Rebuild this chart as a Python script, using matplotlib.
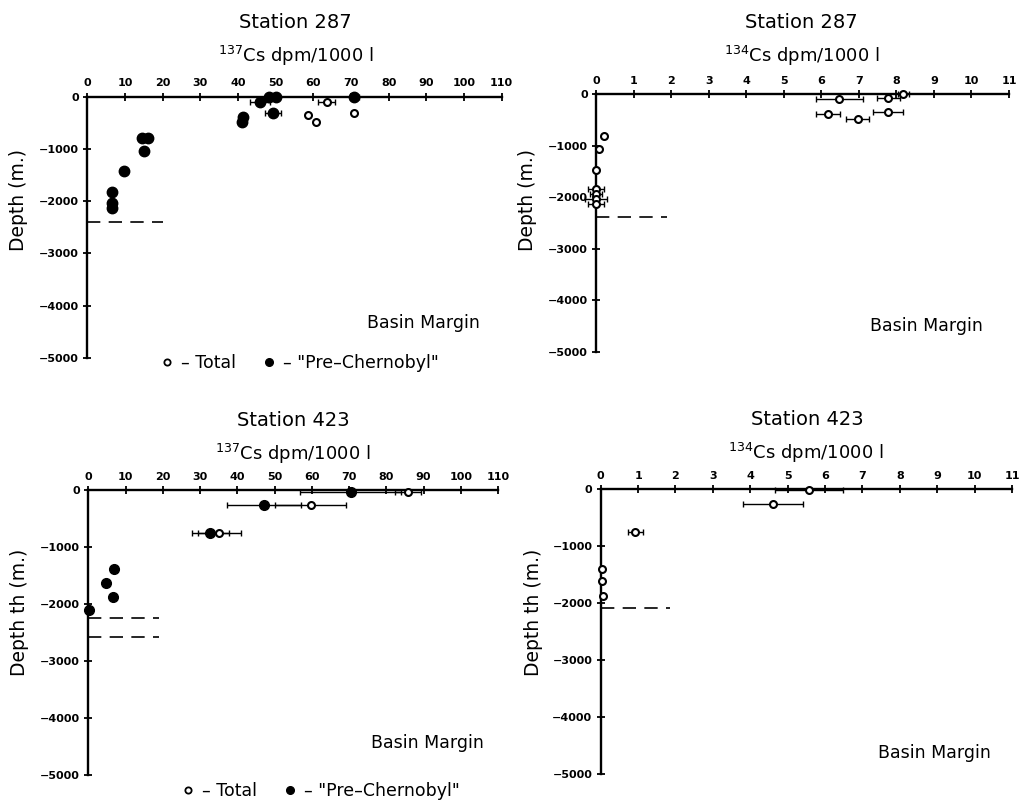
import matplotlib
matplotlib.use("Agg")
from matplotlib import pyplot as plt
from matplotlib.lines import Line2D

plt.rcParams["font.family"] = ["DejaVu Sans"]
plt.rcParams["mathtext.fontset"] = "dejavusans"

# Station 287, 137Cs
st287_cs137_pre_x = [48.3, 50.0, 45.8, 70.8, 49.3, 41.4, 41.0, 14.6, 16.0, 15.1, 9.7, 6.6, 6.6, 6.6]
st287_cs137_pre_depth = [0, -10, -100, -10, -320, -380, -480, -790, -790, -1040, -1430, -1830, -2040, -2130]
st287_cs137_pre_err = [0, 1.0, 2.6, 1.2, 2.2, 0, 0, 0, 0, 0, 0, 0, 0, 0]
st287_cs137_tot_x = [63.5, 70.7, 58.6, 60.7]
st287_cs137_tot_depth = [-100, -320, -350, -480]
st287_cs137_tot_err = [2.2, 0, 0, 0]
st287_cs137_bottom = -2400

# Station 287, 134Cs
st287_cs134_x = [6.48, 7.79, 8.19, 6.17, 6.97, 7.79, 0.22, 0.09, 0.0, 0.0, 0.0, 0.0, 0.0]
st287_cs134_depth = [-100, -65, 0, -380, -470, -340, -810, -1060, -1470, -1830, -1930, -2040, -2130]
st287_cs134_err = [0.62, 0.3, 0.15, 0.32, 0.31, 0.4, 0, 0, 0, 0.2, 0.15, 0.3, 0.2]
st287_cs134_bottom = -2390

# Station 423, 137Cs
st423_cs137_pre_x = [70.4, 47.2, 32.8, 6.8, 4.7, 6.5, 0.3]
st423_cs137_pre_depth = [-30, -265, -755, -1390, -1630, -1880, -2100]
st423_cs137_pre_err = [13.6, 10.0, 5.0, 0, 0, 0, 0]
st423_cs137_tot_x = [85.8, 59.7, 35.2]
st423_cs137_tot_depth = [-30, -265, -755]
st423_cs137_tot_err = [3.5, 9.6, 5.8]
st423_cs137_bottom = [-2250, -2580]

# Station 423, 134Cs
st423_cs134_x = [5.58, 4.60, 0.92, 0.03, 0.03, 0.05]
st423_cs134_depth = [-20, -270, -760, -1400, -1620, -1880]
st423_cs134_err = [0.91, 0.8, 0.2, 0, 0, 0]
st423_cs134_bottom = -2090

cs137_ticks = list(range(0, 111, 10))
cs134_ticks = list(range(0, 12))
depth_ticks = [0, -1000, -2000, -3000, -4000, -5000]

W, H = 1022, 800


def px_axes(fig, left, top, right, bottom):
    return fig.add_axes([left / W, 1 - bottom / H, (right - left) / W, (bottom - top) / H])


def style_axes(ax, xmax, xticks):
    ax.set_xlim(0, xmax)
    ax.set_ylim(-5000, 0)
    for side in ["bottom", "right"]:
        ax.spines[side].set_visible(False)
    for side in ["top", "left"]:
        ax.spines[side].set_linewidth(1.7)
    ax.xaxis.tick_top()
    ax.set_xticks(xticks)
    ax.set_yticks(depth_ticks)
    ax.set_yticklabels(["0", "\u22121000", "\u22122000", "\u22123000", "\u22124000", "\u22125000"])
    ax.tick_params(direction="inout", length=6, width=1.3, labelsize=8, pad=3)
    for lab in ax.get_xticklabels() + ax.get_yticklabels():
        lab.set_fontweight("bold")
    ax.patch.set_visible(False)


def plot_points(ax, x, depth, err, filled, ms):
    ax.errorbar(x, depth, xerr=err, fmt="none", ecolor="black", elinewidth=1.0,
                capsize=2, capthick=1.0, clip_on=False, zorder=3)
    if filled:
        ax.plot(x, depth, "o", color="black", ms=ms, clip_on=False, zorder=4, linestyle="none")
    else:
        ax.plot(x, depth, "o", mfc="white", mec="black", mew=1.5, ms=ms,
                clip_on=False, zorder=5, linestyle="none")


def bottom_line(ax, depth, xend):
    ax.plot([0, xend], [depth, depth], color="black", lw=1.2, dashes=(8, 5))


def legend(ax, cx, cy):
    handles = [
        Line2D([], [], marker="o", linestyle="none", mfc="white", mec="black", mew=1.3, ms=4.5),
        Line2D([], [], marker="o", linestyle="none", color="black", ms=5.5),
    ]
    ax.legend(handles, ["\u2013 Total", "\u2013 \"Pre\u2013Chernobyl\""], ncol=2, frameon=False,
              fontsize=12.5, handlelength=0.6, handletextpad=0.5, columnspacing=1.6,
              loc="center", bbox_to_anchor=(cx / W, 1 - cy / H),
              bbox_transform=fig.transFigure)


def fig_text(x, y, s, size, **kw):
    fig.text(x / W, 1 - y / H, s, fontsize=size, ha="center", va="center", **kw)


fig = plt.figure(figsize=(W / 100, H / 100), dpi=100)
fig.patch.set_facecolor("white")

# top left: Station 287, 137Cs
ax1 = px_axes(fig, 87.3, 96.7, 501.7, 358)
style_axes(ax1, 110, cs137_ticks)
plot_points(ax1, st287_cs137_tot_x, st287_cs137_tot_depth, st287_cs137_tot_err, False, 5)
plot_points(ax1, st287_cs137_pre_x, st287_cs137_pre_depth, st287_cs137_pre_err, True, 7.5)
bottom_line(ax1, st287_cs137_bottom, 20)
legend(ax1, 300, 363)

# top right: Station 287, 134Cs
ax2 = px_axes(fig, 596, 94.3, 1009, 352)
style_axes(ax2, 11, cs134_ticks)
plot_points(ax2, st287_cs134_x, st287_cs134_depth, st287_cs134_err, False, 5)
bottom_line(ax2, st287_cs134_bottom, 1.9)

# bottom left: Station 423, 137Cs
ax3 = px_axes(fig, 88.3, 490, 498, 775)
style_axes(ax3, 110, cs137_ticks)
plot_points(ax3, st423_cs137_tot_x, st423_cs137_tot_depth, st423_cs137_tot_err, False, 5)
plot_points(ax3, st423_cs137_pre_x, st423_cs137_pre_depth, st423_cs137_pre_err, True, 7)
for d in st423_cs137_bottom:
    bottom_line(ax3, d, 19)
legend(ax3, 321, 791)

# bottom right: Station 423, 134Cs
ax4 = px_axes(fig, 600.7, 489, 1012, 774)
style_axes(ax4, 11, cs134_ticks)
plot_points(ax4, st423_cs134_x, st423_cs134_depth, st423_cs134_err, False, 5)
bottom_line(ax4, st423_cs134_bottom, 1.85)

fig_text(295, 23, "Station 287", 14)
fig_text(296, 56, r"$^{137}$Cs dpm/1000 l", 13)
fig_text(801, 23, "Station 287", 14)
fig_text(802, 56, r"$^{134}$Cs dpm/1000 l", 13)
fig_text(293, 420, "Station 423", 14)
fig_text(293, 454, r"$^{137}$Cs dpm/1000 l", 13)
fig_text(807, 419, "Station 423", 14)
fig_text(806, 453, r"$^{134}$Cs dpm/1000 l", 13)

fig_text(19, 200, "Depth (m.)", 13.5, rotation=90)
fig_text(527, 200, "Depth (m.)", 13.5, rotation=90)
fig_text(20, 612, "Depth th (m.)", 13.5, rotation=90)
fig_text(533, 612, "Depth th (m.)", 13.5, rotation=90)

fig_text(423, 323, "Basin Margin", 12.5)
fig_text(926, 326, "Basin Margin", 12.5)
fig_text(427, 743, "Basin Margin", 12.5)
fig_text(934, 753, "Basin Margin", 12.5)

fig.savefig("out.png", dpi=100, facecolor="white")
